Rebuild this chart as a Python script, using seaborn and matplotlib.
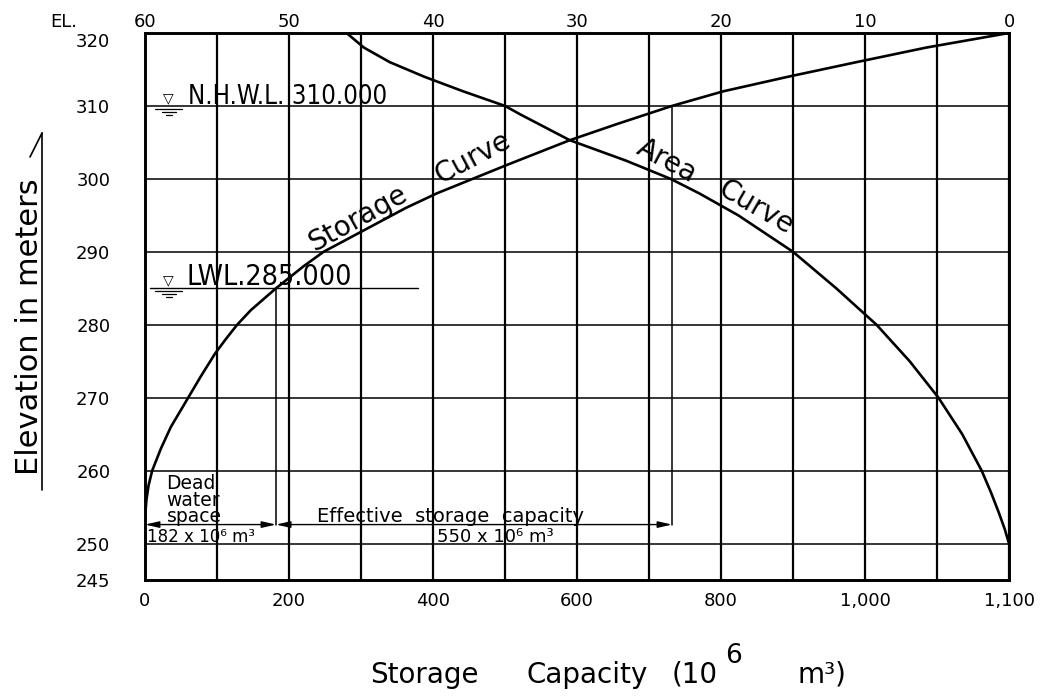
import matplotlib
matplotlib.use("Agg")
import matplotlib.pyplot as plt
from matplotlib.lines import Line2D
from matplotlib.transforms import ScaledTranslation
from matplotlib import font_manager as fm
import seaborn as sns
import pandas as pd

# ---------------- data ----------------
storage_elevation = [253.5, 256, 258, 260, 263, 266, 270, 273, 276, 278, 280, 282, 285, 288, 290,
                     293, 296, 298, 300, 302, 305.3, 307.5, 310, 312, 314, 316, 318, 320]
storage_capacity = [0, 2, 5, 10, 22, 36, 60, 78, 97, 112, 128, 147, 182, 220, 248,
                    305, 362, 405, 455, 505, 590, 655, 732, 803, 893, 988, 1085, 1200]

area_elevation = [250, 252, 254.2, 257, 260, 265, 270, 275, 280, 285, 290, 295, 298,
                  300, 302.5, 305.3, 308.8, 310, 312, 314, 316, 318, 320]
area_value = [0, 0.3, 0.7, 1.25, 1.9, 3.25, 4.9, 6.9, 9.2, 12.0, 15.0, 18.8, 21.5,
              23.5, 26.6, 30.5, 33.9, 35.0, 37.9, 40.6, 43.0, 44.8, 46.0]

capacity_ticks = [0, 200, 400, 600, 800, 1000, 1200]
capacity_tick_labels = ["0", "200", "400", "600", "800", "1,000", "1,100"]
capacity_grid = [0, 100, 200, 300, 400, 500, 600, 700, 800, 900, 1000, 1100, 1200]
area_ticks = [60, 50, 40, 30, 20, 10, 0]
area_tick_labels = ["60", "50", "40", "30", "20", "10", "0"]
elevation_ticks = [245, 250, 260, 270, 280, 290, 300, 310, 320]
elevation_tick_labels = ["245", "250", "260", "270", "280", "290", "300", "310", "320"]

NHWL = 310.0
LWL = 285.0
DEAD_STORAGE = 182
EFFECTIVE_STORAGE = 550
DIM_ELEV = 252.6

# ---------------- style ----------------
sns.set_theme(style="white")
plt.rcParams["font.family"] = ["DejaVu Sans"]
fonts = fm.fontManager.ttflist
if any(f.name == "Liberation Sans Narrow" for f in fonts):
    NARROW, NSTRETCH, NSIZE_H, NSIZE_L = "Liberation Sans Narrow", "normal", 22, 22
elif any(f.name == "DejaVu Sans" and f.stretch in ("condensed", "semi-condensed") for f in fonts):
    NARROW, NSTRETCH, NSIZE_H, NSIZE_L = "DejaVu Sans", "condensed", 18.5, 20.5
else:
    NARROW, NSTRETCH, NSIZE_H, NSIZE_L = "DejaVu Sans", "normal", 17, 18

W, H = 1040, 700
fig = plt.figure(figsize=(W / 100, H / 100), dpi=100)
fig.patch.set_facecolor("white")
ax = fig.add_axes([145 / W, 120 / H, 864 / W, 547 / H])
ax.set_facecolor("white")

storage_df = pd.DataFrame({"capacity": storage_capacity, "elevation": storage_elevation})
area_df = pd.DataFrame({"area": area_value, "elevation": area_elevation})

sns.lineplot(data=storage_df, x="capacity", y="elevation", sort=False, estimator=None,
             color="black", linewidth=1.9, ax=ax, zorder=5)
ax.set_xlim(0, 1200)
ax.set_ylim(245, 320)
ax.set_xlabel("")
ax.set_ylabel("")

ax2 = ax.twiny()
sns.lineplot(data=area_df, x="area", y="elevation", sort=False, estimator=None,
             color="black", linewidth=1.9, ax=ax2, zorder=5)
ax2.set_xlim(60, 0)
ax2.set_ylim(245, 320)
ax2.set_xlabel("")
ax2.set_ylabel("")

# ticks
ax.set_xticks(capacity_ticks)
ax.set_xticklabels(capacity_tick_labels)
ax.set_xticks(capacity_grid, minor=True)
ax.set_yticks(elevation_ticks)
ax.set_yticklabels(elevation_tick_labels)
ax.tick_params(axis="x", which="both", length=0, labelsize=13, pad=9, colors="black")
ax.tick_params(axis="y", which="both", length=0, labelsize=13, pad=25, colors="black")
ax2.set_xticks(area_ticks)
ax2.set_xticklabels(area_tick_labels)
ax2.tick_params(axis="x", length=0, labelsize=13, pad=1.5, colors="black")
top_lab = ax.get_yticklabels()[-1]
top_lab.set_transform(top_lab.get_transform() + ScaledTranslation(0, -5 / 72, fig.dpi_scale_trans))

# grid
ax.grid(False)
ax2.grid(False)
for xv in capacity_grid:
    ax.axvline(xv, color="black", linewidth=1.6, zorder=1)
for yv in elevation_ticks[1:]:
    ax.axhline(yv, color="black", linewidth=1.1, zorder=1)
for a in (ax, ax2):
    for sp in a.spines.values():
        sp.set_color("black")
        sp.set_linewidth(1.9)

# ---------------- annotations ----------------
def level_mark(level, s_center):
    ax.text(s_center, level + 0.15, "\u25BD", ha="center", va="bottom", fontsize=10,
            color="black", zorder=6)
    for dy, half in ((0.41, 19), (0.82, 10), (1.23, 4)):
        ax.plot([s_center - half, s_center + half], [level - dy, level - dy],
                color="black", linewidth=0.9, zorder=6)

level_mark(NHWL, 33)
ax.text(60, NHWL + 0.2, f"N.H.W.L. {NHWL:.3f}", ha="left", va="baseline",
        fontsize=NSIZE_H, family=NARROW, fontstretch=NSTRETCH, color="black", zorder=6)

level_mark(LWL, 33)
ax.plot([7, 379], [LWL, LWL], color="black", linewidth=1.0, zorder=4)
ax.text(58, LWL + 0.4, f"LWL.{LWL:.3f}", ha="left", va="baseline",
        fontsize=NSIZE_L, family=NARROW, fontstretch=NSTRETCH, color="black", zorder=6)

# dimension lines
top_eff = DEAD_STORAGE + EFFECTIVE_STORAGE
ax.plot([DEAD_STORAGE, DEAD_STORAGE], [DIM_ELEV, LWL], color="black", linewidth=1.1, zorder=4)
ax.plot([top_eff, top_eff], [DIM_ELEV, NHWL], color="black", linewidth=1.1, zorder=4)
arrow = dict(arrowstyle="<|-|>,head_length=0.7,head_width=0.16", color="black",
             linewidth=1.0, shrinkA=0, shrinkB=0)
ax.annotate("", xy=(0, DIM_ELEV), xytext=(DEAD_STORAGE, DIM_ELEV), arrowprops=arrow, zorder=4)
ax.annotate("", xy=(DEAD_STORAGE, DIM_ELEV), xytext=(top_eff, DIM_ELEV), arrowprops=arrow, zorder=4)

ax.text(30, 252.35, "Dead\nwater\nspace", ha="left", va="bottom", fontsize=13.5,
        linespacing=0.85, color="black", zorder=6)
ax.text(3, 250.25, f"{DEAD_STORAGE} x 10\u2076 m\u00B3", ha="left", va="baseline", fontsize=12,
        color="black", zorder=6)
ax.text(239, DIM_ELEV + 0.3, "Effective  storage  capacity", ha="left", va="baseline",
        fontsize=14, color="black", zorder=6)
ax.text(405, 250.25, f"{EFFECTIVE_STORAGE} x 10\u2076 m\u00B3", ha="left", va="baseline",
        fontsize=13, color="black", zorder=6)

# curve labels
ax.text(296, 294.6, "Storage", rotation=29, rotation_mode="anchor", ha="center",
        va="center", fontsize=20, color="black", zorder=6)
ax.text(456, 302.9, "Curve", rotation=28, rotation_mode="anchor", ha="center",
        va="center", fontsize=20, color="black", zorder=6)
ax.text(724, 302.4, "Area", rotation=-28, rotation_mode="anchor", ha="center",
        va="center", fontsize=20, color="black", zorder=6)
ax.text(848, 296.0, "Curve", rotation=-30, rotation_mode="anchor", ha="center",
        va="center", fontsize=20, color="black", zorder=6)

# axis titles
fig.text(50 / W, 1 - 27 / H, "EL.", ha="left", va="baseline", fontsize=13, color="black")

fig.text(30 / W, 1 - 327 / H, "Elevation in meters", rotation=90, ha="center",
         va="center", fontsize=22, color="black")
fig.add_artist(Line2D([42 / W, 42 / W], [1 - 133 / H, 1 - 490 / H], color="black",
                      linewidth=1.2))
fig.add_artist(Line2D([30 / W, 42 / W], [1 - 157 / H, 1 - 133 / H], color="black",
                      linewidth=1.2))

base = 1 - 683 / H
fig.text(370 / W, base, "Storage", ha="left", va="baseline", fontsize=20, color="black")
fig.text(527 / W, base, "Capacity", ha="left", va="baseline", fontsize=20, color="black")
fig.text(672 / W, base, "(10", ha="left", va="baseline", fontsize=20, color="black")
fig.text(725 / W, 1 - 663 / H, "6", ha="left", va="baseline", fontsize=19, color="black")
fig.text(797 / W, base, "m\u00B3)", ha="left", va="baseline", fontsize=20, color="black")

fig.savefig("out.png", dpi=100, facecolor="white")
